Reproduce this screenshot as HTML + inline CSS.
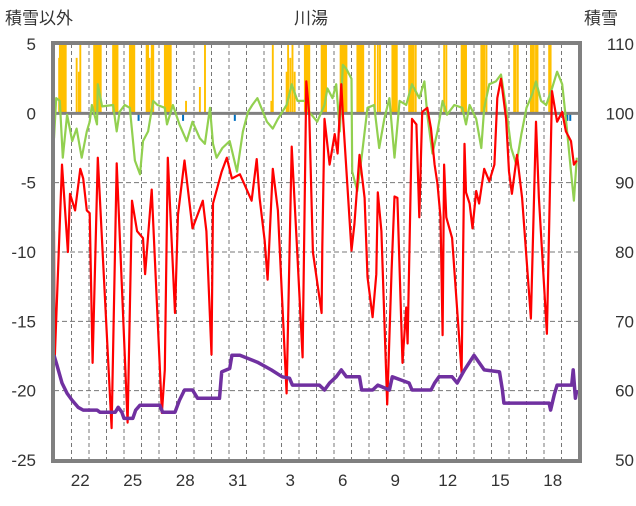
<!DOCTYPE html>
<html><head><meta charset="utf-8">
<style>
body{margin:0;background:#fff;}
svg text{font-family:"Liberation Sans","Noto Sans CJK JP",sans-serif;fill:#333;}
</style></head>
<body>
<svg id="chart" width="636" height="501" viewBox="0 0 636 501" xmlns="http://www.w3.org/2000/svg">
<text x="5" y="24" font-size="17">積雪以外</text>
<text x="311" y="24" font-size="17" text-anchor="middle">川湯</text>
<text x="584" y="24" font-size="17">積雪</text>
<g id="grid"></g>
<g id="marks"></g>
<g id="axes"></g>
</svg>
<script>
const dayLabels=["22","25","28","31","3","6","9","12","15","18"];
const dayLabelIdx=[1,4,7,10,13,16,19,22,25,28];
const leftTicks=[5,0,-5,-10,-15,-20,-25];
const rightTicks=[110,100,90,80,70,60,50];
const tempH=[0,1,11,19,22,29,36,40,45,49,53,60,79,86,101,107,114,122,125,134,148,152,156,166,170,179,190,204,209,216,218,230,237,244,255,261,271,278,282,289,293,300,307,319,326,333,341,346,350,355,367,368,371,378,385,389,394,396,408,412,419,426,430,437,442,444,449,457,463,467,471,478,483,485,491,497,501,505,512,517,522,526,530,533,535,538,546,559,563,565,570,574,579,583,590,597,604,608,613,620,624,628,635,642,654,661,665,676,683,690,697,702,709,713,717];
const tempV=[-8.5,-17.8,-3.7,-10,-5.8,-7,-4,-4.7,-7,-7.2,-18,-3.2,-22.7,-3.6,-22.3,-6.3,-8.5,-9,-11.6,-5.5,-21.6,-18.5,-3.2,-14.4,-7.3,-3.4,-8.3,-6.3,-8.5,-17.4,-6.5,-4.2,-3.2,-4.7,-4.4,-5.1,-6.3,-3.3,-6.1,-9.2,-12,-4,-7,-20.2,-2.4,-9.4,-17.6,2.3,0,-10,-14.4,-9.7,-0.4,-3.7,-1.5,-2.9,2.1,0,-9.9,-8,-3,-6.1,-11.8,-14.7,-11.6,-5.7,-8.5,-21,-11.3,-6,-6.1,-18,-14,-16.6,-0.4,-0.8,-7.5,0.1,0.4,-1.1,-3.7,-5.1,-7.5,-16,-3.7,-7.5,-9,-18.7,-2.2,-5.7,-6.5,-8.3,-5.6,-6.5,-4,-4.9,-3.7,1.1,2.5,-0.4,-4.2,-5.8,-3,-6.1,-14.8,-0.6,-6.1,-15.9,1.6,-0.6,0.1,-1.3,-2,-3.7,-3.4];
const greenH=[0,3,8,12,18,25,31,38,45,49,52,59,60,66,81,86,90,97,104,111,118,122,129,136,142,152,155,163,172,182,190,200,207,214,218,223,231,241,251,259,266,272,279,292,300,307,319,326,334,346,350,361,371,375,382,387,392,396,401,408,409,416,423,430,439,446,453,460,467,474,483,491,501,508,512,519,526,533,539,549,560,565,570,579,586,590,597,606,613,620,627,634,641,648,656,661,668,675,683,690,697,702,709,713,717];
const greenV=[-1.8,1.1,0.9,-3.2,-0.1,-2,-1.1,-3.2,-1.3,-0.6,0.6,-0.8,2.1,0.5,0.6,-1.3,0.1,0.6,0.4,-3.4,-4.4,-2,-1.3,0.9,0.6,0.4,-0.8,0.6,-0.8,-2,-0.6,-1.8,-2.2,0.4,-2.2,-3.2,-2.5,-2,-4.2,-1.3,0.1,0.6,1.1,-0.6,-1.1,-0.4,0.6,2.1,0.9,0.9,0.1,-0.6,0.6,1.8,1.1,2.1,-1.3,3.5,3.2,2.5,-4.2,-5.6,-2.7,0.4,0.6,-2.5,-0.4,1.1,-3.2,0.9,0.6,2.1,1.1,2.3,-0.1,-2.9,-1.3,0.9,-0.1,0.6,0.4,-0.8,0.6,-0.4,-2.5,0.4,2.1,2.3,2.8,0.4,-2.5,-3.7,-1.5,0.4,1.4,2.3,0.9,0.6,1.8,3,2.1,-0.4,-4.2,-6.3,-3.2];
const snowDepthH=[0,4,11,18,25,33,40,59,63,84,88,93,96,108,112,118,145,149,166,172,179,190,197,227,230,241,244,255,279,298,313,323,327,364,371,378,387,394,401,419,422,437,444,460,464,487,491,517,522,528,546,553,563,576,590,611,615,617,679,681,686,690,710,712,715,717];
const snowDepthV=[65.1,63.7,61.1,59.6,58.6,57.6,57.2,57.2,56.9,56.9,57.6,56.9,56,56,57.2,57.9,57.9,56.9,56.9,58.6,60.1,60.1,58.9,58.9,62.7,63.2,65.1,65.1,64.1,63,62,61.8,60.8,60.8,60.1,61.1,62,63,62,62,60.1,60.1,60.8,60.1,62,61.1,60.1,60.1,61.1,62,62,61.1,63,65.1,63,62.7,60.1,58.2,58.2,57.2,59.4,60.8,60.8,63,58.9,60.1];
const snowfallH=[7,8,10,12,14,16,31,34,36,55,57,59,61,63,64,81,83,85,87,104,106,108,110,127,129,131,134,136,152,154,156,158,160,181,200,207,298,300,319,321,324,327,330,344,346,348,350,367,369,371,373,393,395,397,399,401,416,418,420,422,424,440,444,447,464,466,468,470,487,489,491,493,496,535,538,559,561,563,565,586,588,590,593,631,633,636,654,656,658,661,663,679,681,683];
const snowfallV=[4,6,6,6,6,6,4,3,6,6,6,6,6,6,6,6,6,6,6,6,6,6,6,5,6,4,6,6,6,6,6,6,6,0.9,1.9,6,0.9,6,3,6,4,6,3,6,6,6,6,6,6,6,6,6,6,6,6,6,6,6,6,6,6,6,6,6,6,6,6,6,6,6,6,6,6,6,6,6,6,6,6,6,6,6,6,6,6,6,6,6,6,6,6,6,6];
const rainH=[116,177,248,704,708];
const rainV=[-0.4,-0.4,-0.4,-0.4,-0.4];

const X0=54,X1=579,Y0=44,Y1=460,NS="http://www.w3.org/2000/svg";
const xH=h=>X0+h*(X1-X0)/720;
const yL=v=>Y1-(v+25)*(Y1-Y0)/30;
const yR=v=>Y1-(v-50)*(Y1-Y0)/60;
function mk(tag,attrs,parent){const e=document.createElementNS(NS,tag);for(const k in attrs)e.setAttribute(k,attrs[k]);parent.appendChild(e);return e;}
const grid=document.getElementById('grid'),marks=document.getElementById('marks'),axes=document.getElementById('axes');
for(let d=1;d<30;d++){const x=X0+d*(X1-X0)/30;
 const l=mk('line',{x1:x,x2:x,y1:Y0,y2:Y1,stroke:'#777','stroke-width':1,'stroke-dasharray':'4,3'},grid);
 
 }
leftTicks.forEach(v=>{const y=yL(v);
 if(v!==0&&v!==5&&v!==-25){const l=mk('line',{x1:X0,x2:X1,y1:y,y2:y,stroke:'#777','stroke-width':1,'stroke-dasharray':'5,3'},grid);
 
 }
 const t=mk('text',{x:36,y:y+6,'font-size':17,'text-anchor':'end'},axes);t.textContent=v;
 
 });
rightTicks.forEach(v=>{const t=mk('text',{x:634,y:yR(v)+6,'font-size':17,'text-anchor':'end'},axes);t.textContent=v;
 
 });
dayLabels.forEach((s,i)=>{const x=X0+(dayLabelIdx[i]+0.5)*(X1-X0)/30;
 const t=mk('text',{x:x,y:486,'font-size':17,'text-anchor':'middle'},axes);t.textContent=s;
 
 });
snowfallH.forEach((h,i)=>{const top=yL(Math.min(snowfallV[i],5));
 const r=mk('rect',{x:xH(h)-0.9,y:top,width:1.9,height:yL(0)-top,fill:'#FFC000'},marks);
 
 });
rainH.forEach((h,i)=>{const r=mk('rect',{x:xH(h)-1,y:yL(0),width:2,height:yL(rainV[i])-yL(0)+2,fill:'#0070C0'},marks);
 
 });
const zl=mk('line',{x1:X0,x2:X1,y1:yL(0),y2:yL(0),stroke:'#808080','stroke-width':3},marks);


function poly(H,V,f,col,w,name){const p=mk('polyline',{points:H.map((h,i)=>xH(h).toFixed(1)+','+f(V[i]).toFixed(1)).join(' '),fill:'none',stroke:col,'stroke-width':w,'stroke-linejoin':'round'},marks);
 
 }
poly(greenH,greenV,yL,'#92D050',2.2,'ground-temp-line');
poly(tempH,tempV,yL,'#FF0000',2.2,'air-temp-line');
poly(snowDepthH,snowDepthV,yR,'#7030A0',3.5,'snow-depth-line');
const fr=mk('rect',{x:X0-1,y:Y0-1,width:X1-X0+2,height:Y1-Y0+2,fill:'none',stroke:'#808080','stroke-width':4},axes);


</script>
</body></html>
